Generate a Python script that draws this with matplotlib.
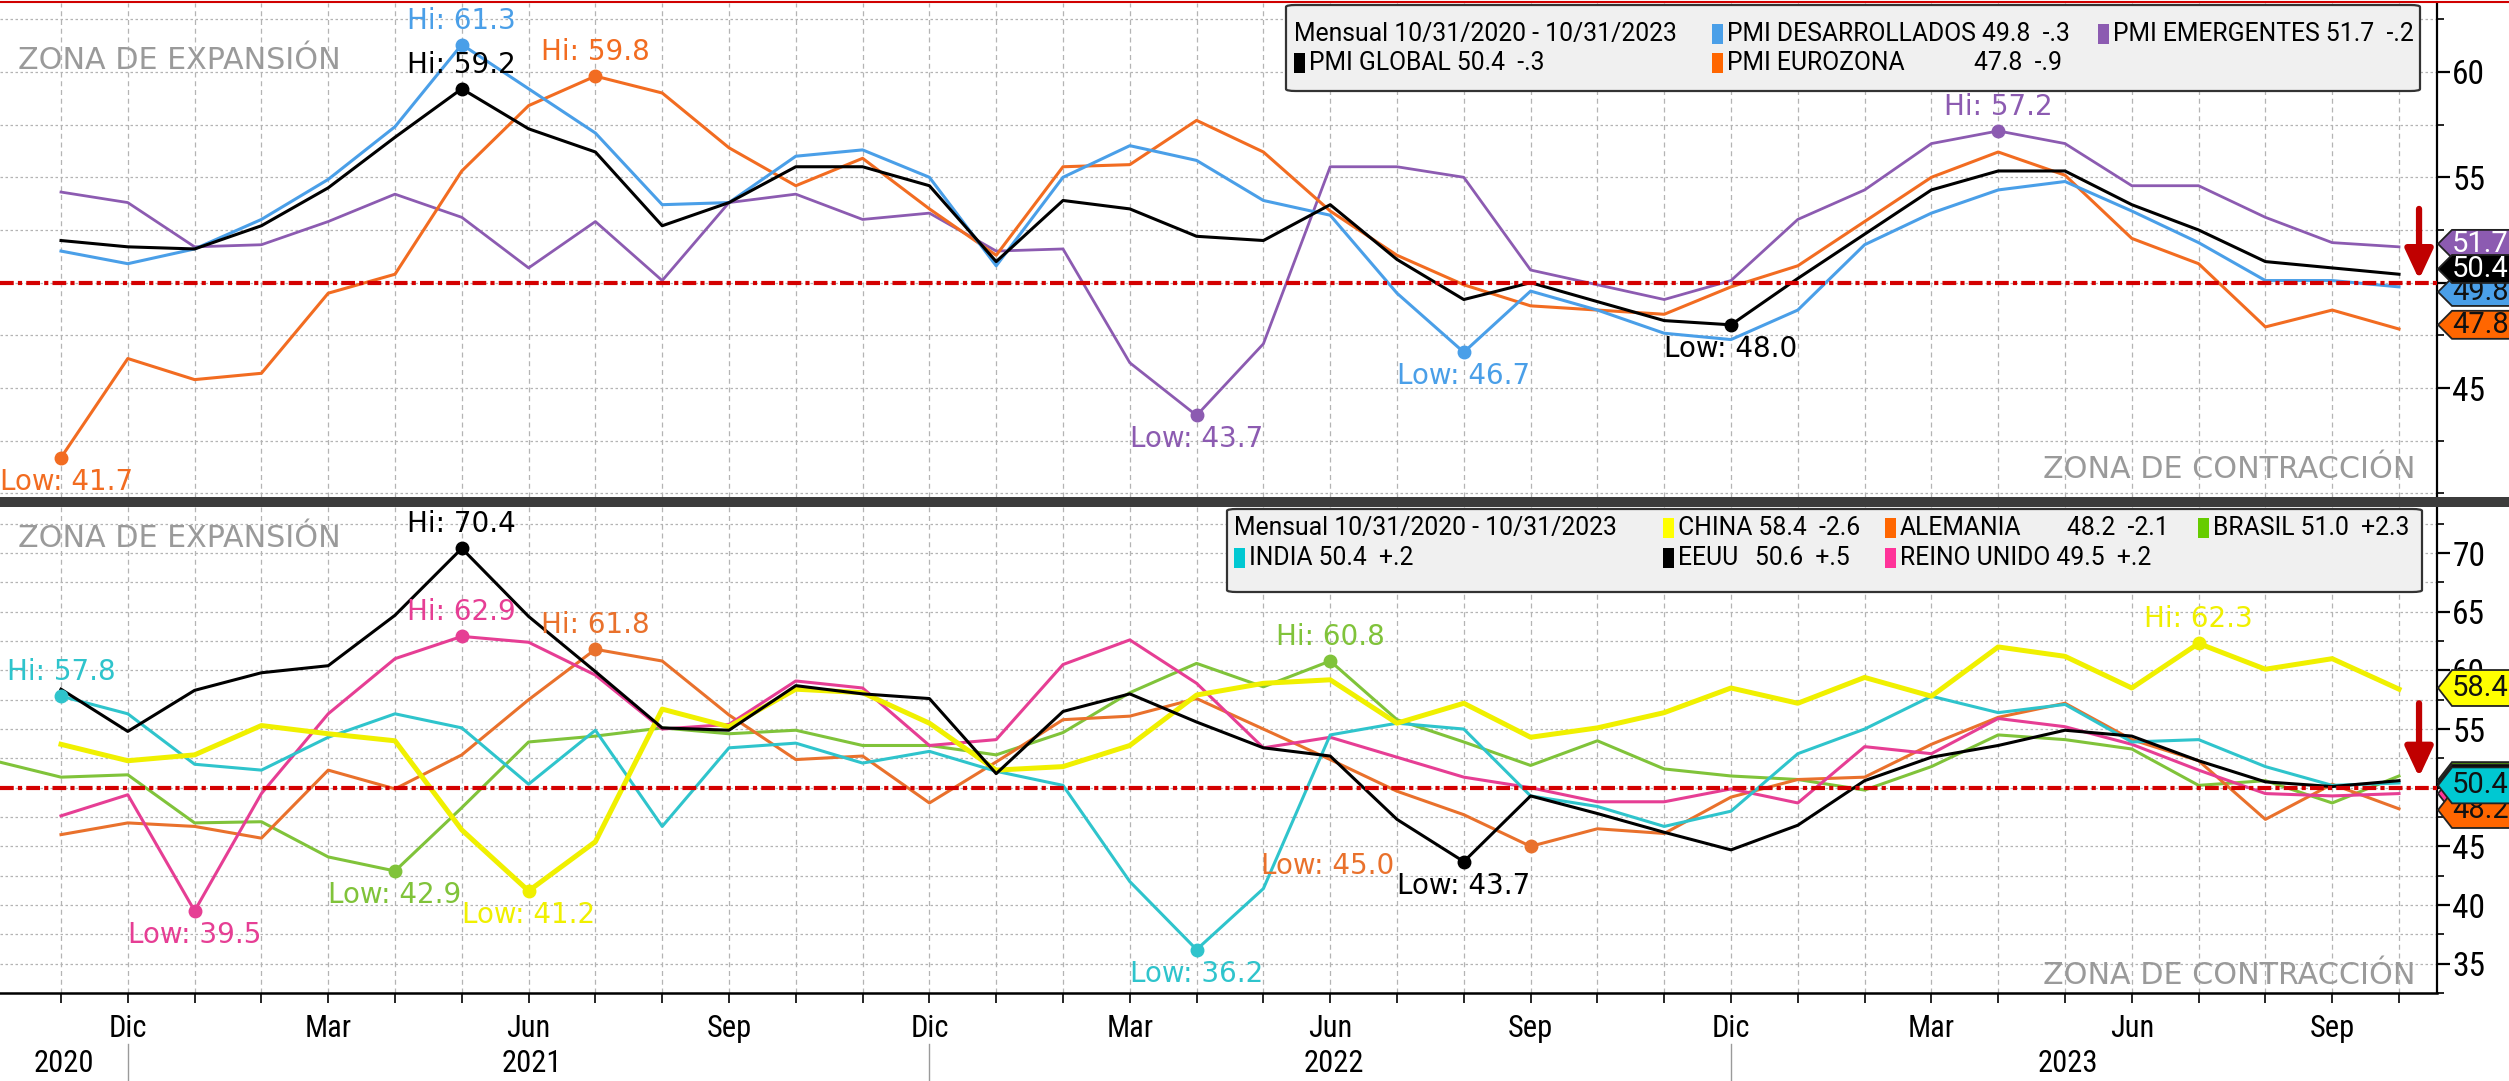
import matplotlib
matplotlib.use('Agg')
from matplotlib import pyplot as plt
from matplotlib import transforms as mtrans
from matplotlib.patches import Polygon, Rectangle, FancyBboxPatch
from matplotlib.lines import Line2D
import numpy as np
import pandas as pd
import logging

logging.getLogger('matplotlib.font_manager').setLevel(logging.ERROR)

# PMI mensual, nov-2020 .. oct-2023
fechas = pd.period_range('2020-11', '2023-10', freq='M')

# panel superior
pmi_global = [52.0, 51.7, 51.6, 52.7, 54.5, 56.9, 59.2, 57.3, 56.2, 52.7,
              53.8, 55.5, 55.5, 54.6, 51.0, 53.9, 53.5, 52.2, 52.0, 53.7,
              51.1, 49.2, 50.0, 49.1, 48.2, 48.0, 50.2, 52.3, 54.4, 55.3,
              55.3, 53.7, 52.5, 51.0, 50.7, 50.4]
pmi_desarrollados = [51.5, 50.9, 51.6, 53.0, 54.9, 57.4, 61.3, 59.2, 57.1, 53.7,
                     53.8, 56.0, 56.3, 55.0, 50.8, 55.0, 56.5, 55.8, 53.9, 53.2,
                     49.5, 46.7, 49.6, 48.7, 47.6, 47.3, 48.7, 51.8, 53.3, 54.4,
                     54.8, 53.4, 51.9, 50.1, 50.1, 49.8]
pmi_emergentes = [54.3, 53.8, 51.7, 51.8, 52.9, 54.2, 53.1, 50.7, 52.9, 50.1,
                  53.8, 54.2, 53.0, 53.3, 51.5, 51.6, 46.2, 43.7, 47.1, 55.5,
                  55.5, 55.0, 50.6, 49.9, 49.2, 50.1, 53.0, 54.4, 56.6, 57.2,
                  56.6, 54.6, 54.6, 53.1, 51.9, 51.7]
pmi_eurozona = [41.7, 46.4, 45.4, 45.7, 49.5, 50.4, 55.3, 58.4, 59.8, 59.0,
                56.4, 54.6, 55.9, 53.5, 51.3, 55.5, 55.6, 57.7, 56.2, 53.4,
                51.3, 49.9, 48.9, 48.7, 48.5, 49.8, 50.8, 52.9, 55.0, 56.2,
                55.1, 52.1, 50.9, 47.9, 48.7, 47.8]

# panel inferior
china = [53.7, 52.3, 52.8, 55.3, 54.6, 54.0, 46.4, 41.2, 45.4, 56.7,
         55.2, 58.4, 58.1, 55.5, 51.5, 51.8, 53.6, 57.9, 58.9, 59.2,
         55.5, 57.2, 54.3, 55.1, 56.4, 58.5, 57.2, 59.4, 57.8, 62.0,
         61.2, 58.5, 62.3, 60.1, 61.0, 58.4]
alemania = [46.0, 47.0, 46.7, 45.7, 51.5, 49.9, 52.8, 57.5, 61.8, 60.8,
            56.2, 52.4, 52.7, 48.7, 52.2, 55.8, 56.1, 57.6, 55.0, 52.4,
            49.7, 47.7, 45.0, 46.5, 46.1, 49.2, 50.7, 50.9, 53.7, 56.0,
            57.2, 54.1, 52.3, 47.3, 50.3, 48.2]
brasil_oct2020 = 52.3
brasil = [50.9, 51.1, 47.0, 47.1, 44.1, 42.9, 48.3, 53.9, 54.4, 55.1,
          54.6, 54.9, 53.6, 53.6, 52.8, 54.7, 58.1, 60.6, 58.6, 60.8,
          55.8, 53.9, 51.9, 54.0, 51.6, 51.0, 50.7, 49.8, 51.8, 54.5,
          54.1, 53.3, 50.2, 50.6, 48.7, 51.0]
india = [57.8, 56.3, 52.0, 51.5, 54.3, 56.3, 55.1, 50.3, 54.9, 46.7,
         53.4, 53.8, 52.1, 53.1, 51.4, 50.2, 42.0, 36.2, 41.4, 54.5,
         55.5, 55.0, 49.3, 48.4, 46.7, 48.0, 52.9, 55.0, 57.8, 56.4,
         57.1, 53.9, 54.1, 51.8, 50.2, 50.4]
eeuu = [58.4, 54.8, 58.3, 59.8, 60.4, 64.7, 70.4, 64.6, 59.9, 55.1,
        54.9, 58.7, 58.0, 57.6, 51.2, 56.5, 58.0, 55.6, 53.4, 52.7,
        47.3, 43.7, 49.3, 47.8, 46.2, 44.7, 46.8, 50.6, 52.6, 53.6,
        54.9, 54.4, 52.3, 50.5, 50.1, 50.6]
reino_unido = [47.6, 49.4, 39.5, 49.5, 56.3, 61.0, 62.9, 62.4, 59.6, 55.0,
               55.4, 59.1, 58.5, 53.6, 54.1, 60.5, 62.6, 58.9, 53.4, 54.3,
               52.6, 50.9, 50.0, 48.8, 48.8, 49.9, 48.7, 53.5, 52.9, 55.9,
               55.2, 53.7, 51.5, 49.5, 49.3, 49.5]

mes_abrev = {12: 'Dic', 3: 'Mar', 6: 'Jun', 9: 'Sep'}
rango = 'Mensual 10/31/2020 - 10/31/2023'

NARROW = ['Roboto Condensed', 'Liberation Sans Narrow', 'Roboto']
LEG = ['Roboto', 'DejaVu Sans']
SANS = ['DejaVu Sans']

C_DES, C_EMER, C_GLOB, C_EURO = '#4a9fe8', '#8c5bb1', '#000000', '#f26c21'
C_CHN, C_ALE, C_BRA = '#f0f000', '#e9712c', '#80c33a'
C_IND, C_USA, C_RU = '#2fc4cc', '#000000', '#e63e94'

x = np.arange(len(fechas))
W, H = 2509, 1081
AXW = 2437
fig = plt.figure(figsize=(W / 100, H / 100), dpi=100)
ax1 = fig.add_axes([0, 1 - 497 / H, AXW / W, 494 / H])
ax2 = fig.add_axes([0, 1 - 993 / H, AXW / W, 486 / H])

ticks_mes = [i for i, p in enumerate(fechas) if p.month in mes_abrev]
labels_mes = [mes_abrev[fechas[i].month] for i in ticks_mes]


def base(ax, ylim, majors, minors):
    ax.set_xlim(-61 / 66.8, (AXW - 61) / 66.8)
    ax.set_ylim(*ylim)
    ax.yaxis.tick_right()
    ax.set_yticks(majors)
    ax.set_yticks(minors, minor=True)
    ax.set_xticks(ticks_mes)
    ax.set_xticks(x, minor=True)
    ax.grid(axis='x', which='both', color='#b4b4b4', lw=0.9, ls=(0, (4, 3)))
    ax.grid(axis='y', which='both', color='#b4b4b4', lw=0.9, ls=(0, (2, 2)))
    for s in ['left', 'top']:
        ax.spines[s].set_visible(False)
    ax.spines['right'].set_linewidth(1.6)
    ax.tick_params(axis='y', which='major', direction='out', length=9, width=1.6,
                   labelsize=24, pad=2, labelfontfamily=NARROW)
    ax.tick_params(axis='y', which='minor', direction='out', length=5, width=1.2)
    ax.axhline(50, color='#d40000', lw=3, ls=(0, (3.3, 1, 1, 1)), zorder=6)


base(ax1, (39.83, 63.27), [45, 50, 55, 60], np.arange(40, 63.5, 2.5))
base(ax2, (32.55, 73.93), np.arange(35, 71, 5), np.arange(32.5, 74, 2.5))

ax1.tick_params(axis='x', which='both', length=0, labelbottom=False)
ax1.spines['bottom'].set_visible(False)
ax2.set_xticklabels(labels_mes)
ax2.tick_params(axis='x', which='both', direction='out', length=7, width=1.2,
                labelsize=22, pad=8, labelfontfamily=NARROW)
ax2.spines['bottom'].set_linewidth(1.8)

# años y separadores bajo el eje
tr_x = mtrans.blended_transform_factory(ax2.transData, ax2.transAxes)
for anio in sorted(set(p.year for p in fechas)):
    idx = [i for i, p in enumerate(fechas) if p.year == anio]
    ax2.text(np.mean(idx) - 0.45, -0.145, str(anio), transform=tr_x, ha='center',
             va='center', fontsize=22, family=NARROW)
    if idx[-1] != x[-1]:
        ax2.plot([idx[-1], idx[-1]], [-0.105, -0.19], transform=tr_x, color='#9a9a9a',
                 lw=1, clip_on=False)


def serie(ax, xs, ys, color, lw, hi_off=(0, 24), lo_off=(0, -24), z=3, rango_hl=None):
    ax.plot(xs, ys, color=color, lw=lw, zorder=z)
    xs_hl = xs if rango_hl is None else xs[rango_hl]
    ys_hl = np.asarray(ys) if rango_hl is None else np.asarray(ys)[rango_hl]
    for k, tag, off in [(np.argmax(ys_hl), 'Hi', hi_off), (np.argmin(ys_hl), 'Low', lo_off)]:
        xi, yi = xs_hl[k], ys_hl[k]
        ax.plot([xi], [yi], 'o', color=color, ms=9, zorder=z + 0.5)
        ax.annotate(f'{tag}: {yi:.1f}', (xi, yi), xytext=off, textcoords='offset pixels',
                    ha='center', va='center', color=color, fontsize=20, family=SANS,
                    zorder=12)


serie(ax1, x, pmi_emergentes, C_EMER, 2.0, z=3)
serie(ax1, x, pmi_eurozona, C_EURO, 2.2, z=3.2, lo_off=(6, -24))
serie(ax1, x, pmi_desarrollados, C_DES, 2.2, z=3.4)
serie(ax1, x, pmi_global, C_GLOB, 2.2, z=3.6)

xb = np.arange(-1, len(fechas))
serie(ax2, xb, [brasil_oct2020] + brasil, C_BRA, 2.2, z=3, rango_hl=slice(1, None))
serie(ax2, x, alemania, C_ALE, 2.2, z=3.1, lo_off=(-203, -20))
serie(ax2, x, reino_unido, C_RU, 2.2, z=3.2)
serie(ax2, x, india, C_IND, 2.2, z=3.3)
serie(ax2, x, china, C_CHN, 3.6, z=3.4)
serie(ax2, x, eeuu, C_USA, 2.2, z=3.5)

# textos de zona
for ax, ytop, ybot in [(ax1, 0.883, 0.055), (ax2, 0.936, 0.037)]:
    ax.text(0.0074, ytop, 'ZONA DE EXPANSIÓN', transform=ax.transAxes, color='#9a9a9a',
            fontsize=21.7, va='center', ha='left', zorder=8)
    ax.text(0.991, ybot, 'ZONA DE CONTRACCIÓN', transform=ax.transAxes, color='#9a9a9a',
            fontsize=21.7, va='center', ha='right', zorder=8)

# flechas rojas
ax1.annotate('', xy=(35.3, 50.15), xytext=(35.3, 53.5),
             arrowprops=dict(arrowstyle='-|>,head_length=0.9,head_width=0.42', color='#c00000',
                             lw=4.5, mutation_scale=20, shrinkA=0, shrinkB=0), zorder=9)
ax2.annotate('', xy=(35.3, 50.9), xytext=(35.3, 57.2),
             arrowprops=dict(arrowstyle='-|>,head_length=0.9,head_width=0.42', color='#c00000',
                             lw=4.5, mutation_scale=20, shrinkA=0, shrinkB=0), zorder=9)


# etiquetas de ultimo valor en el eje derecho
def etiqueta(ax, yc, hpx, ppu, valor, fc, tc, z):
    tr = mtrans.blended_transform_factory(ax.transAxes, ax.transData)
    px = 1 / AXW
    x0, x1, x2 = 1 + px, 1 + 15 * px, 1.05
    h = hpx / 2 / ppu
    poly = Polygon([(x0, yc), (x1, yc + h), (x2, yc + h), (x2, yc - h), (x1, yc - h)],
                   closed=True, transform=tr, clip_on=False, fc=fc, ec='#222222', lw=1.3,
                   zorder=z)
    ax.add_patch(poly)
    ax.text(x1, yc, f'{valor:.1f}', transform=tr, va='center', ha='left',
            fontsize=21, color=tc, family=['Roboto'], clip_on=False, zorder=z + 0.5)


etiqueta(ax1, 51.84, 28, 21.07, pmi_emergentes[-1], C_EMER, 'white', 20)
etiqueta(ax1, 49.56, 28, 21.07, pmi_desarrollados[-1], C_DES, '#111111', 21)
etiqueta(ax1, 50.65, 28, 21.07, pmi_global[-1], '#000000', 'white', 22)
etiqueta(ax1, 48.0, 28, 21.07, pmi_eurozona[-1], '#ff6600', '#111111', 23)

etiqueta(ax2, 58.5, 36, 11.74, china[-1], '#ffff00', '#111111', 20)
etiqueta(ax2, 50.65, 36, 11.74, brasil[-1], '#66cc00', '#111111', 21)
etiqueta(ax2, 50.45, 36, 11.74, eeuu[-1], '#000000', 'white', 22)
etiqueta(ax2, 49.5, 36, 11.74, reino_unido[-1], '#ff3399', '#111111', 23)
etiqueta(ax2, 48.1, 36, 11.74, alemania[-1], '#ff6600', '#111111', 24)
etiqueta(ax2, 50.2, 36, 11.74, india[-1], '#00c8d2', '#111111', 25)


# leyendas estilo terminal
def cambio(s):
    d = round(s[-1] - s[-2], 1)
    t = f'{d:+.1f}'
    return t.replace('0.', '.') if abs(d) < 1 else t


def leyenda(ax, caja, filas, axh):
    x0, y0, x1, y1 = caja
    ax.add_patch(FancyBboxPatch((x0 / AXW, 1 - y1 / axh), (x1 - x0) / AXW, (y1 - y0) / axh,
                                boxstyle='round,pad=0,rounding_size=0.004',
                                transform=ax.transAxes, fc='#f0f0f0', ec='#333333',
                                lw=1.6, zorder=30, clip_on=False))
    for ypx, items in filas:
        yy = 1 - ypx / axh
        for xpx, color, texto in items:
            if color is not None:
                ax.add_patch(Rectangle((xpx / AXW, yy - 10 / axh), 11 / AXW, 20 / axh,
                                       transform=ax.transAxes, fc=color, ec='none',
                                       zorder=31, clip_on=False))
                xpx += 15
            ax.text(xpx / AXW, yy, texto, transform=ax.transAxes, va='center', ha='left',
                    fontsize=17.8, family=LEG, zorder=32)


leyenda(ax1, (1286, 2, 2420, 88), [
    (31, [(1294, None, rango),
          (1712, C_DES, f'PMI DESARROLLADOS {pmi_desarrollados[-1]:.1f}  {cambio(pmi_desarrollados)}'),
          (2098, C_EMER, f'PMI EMERGENTES {pmi_emergentes[-1]:.1f}  {cambio(pmi_emergentes)}')]),
    (60, [(1294, '#000000', f'PMI GLOBAL {pmi_global[-1]:.1f}  {cambio(pmi_global)}'),
          (1712, '#ff6600', 'PMI EUROZONA'),
          (1974, None, f'{pmi_eurozona[-1]:.1f}  {cambio(pmi_eurozona)}')]),
], 494)

leyenda(ax2, (1227, 2, 2422, 85), [
    (21, [(1234, None, rango),
          (1663, '#ffff00', f'CHINA {china[-1]:.1f}  {cambio(china)}'),
          (1885, '#ff6600', 'ALEMANIA'),
          (2067, None, f'{alemania[-1]:.1f}  {cambio(alemania)}'),
          (2198, '#66cc00', f'BRASIL {brasil[-1]:.1f}  {cambio(brasil)}')]),
    (51, [(1234, '#00c8d2', f'INDIA {india[-1]:.1f}  {cambio(india)}'),
          (1663, '#000000', 'EEUU'),
          (1755, None, f'{eeuu[-1]:.1f}  {cambio(eeuu)}'),
          (1885, '#ff3399', f'REINO UNIDO {reino_unido[-1]:.1f}  {cambio(reino_unido)}')]),
], 486)

# separador entre paneles y linea roja superior
fig.add_artist(Rectangle((0, 1 - 507 / H), 1, 10 / H, transform=fig.transFigure,
                         fc='#3c3c3c', ec='none'))
fig.add_artist(Line2D([0, 1], [1 - 1.5 / H, 1 - 1.5 / H], transform=fig.transFigure,
                      color='#d00000', lw=1.5))

plt.savefig('out.png', dpi=100, facecolor='white')
